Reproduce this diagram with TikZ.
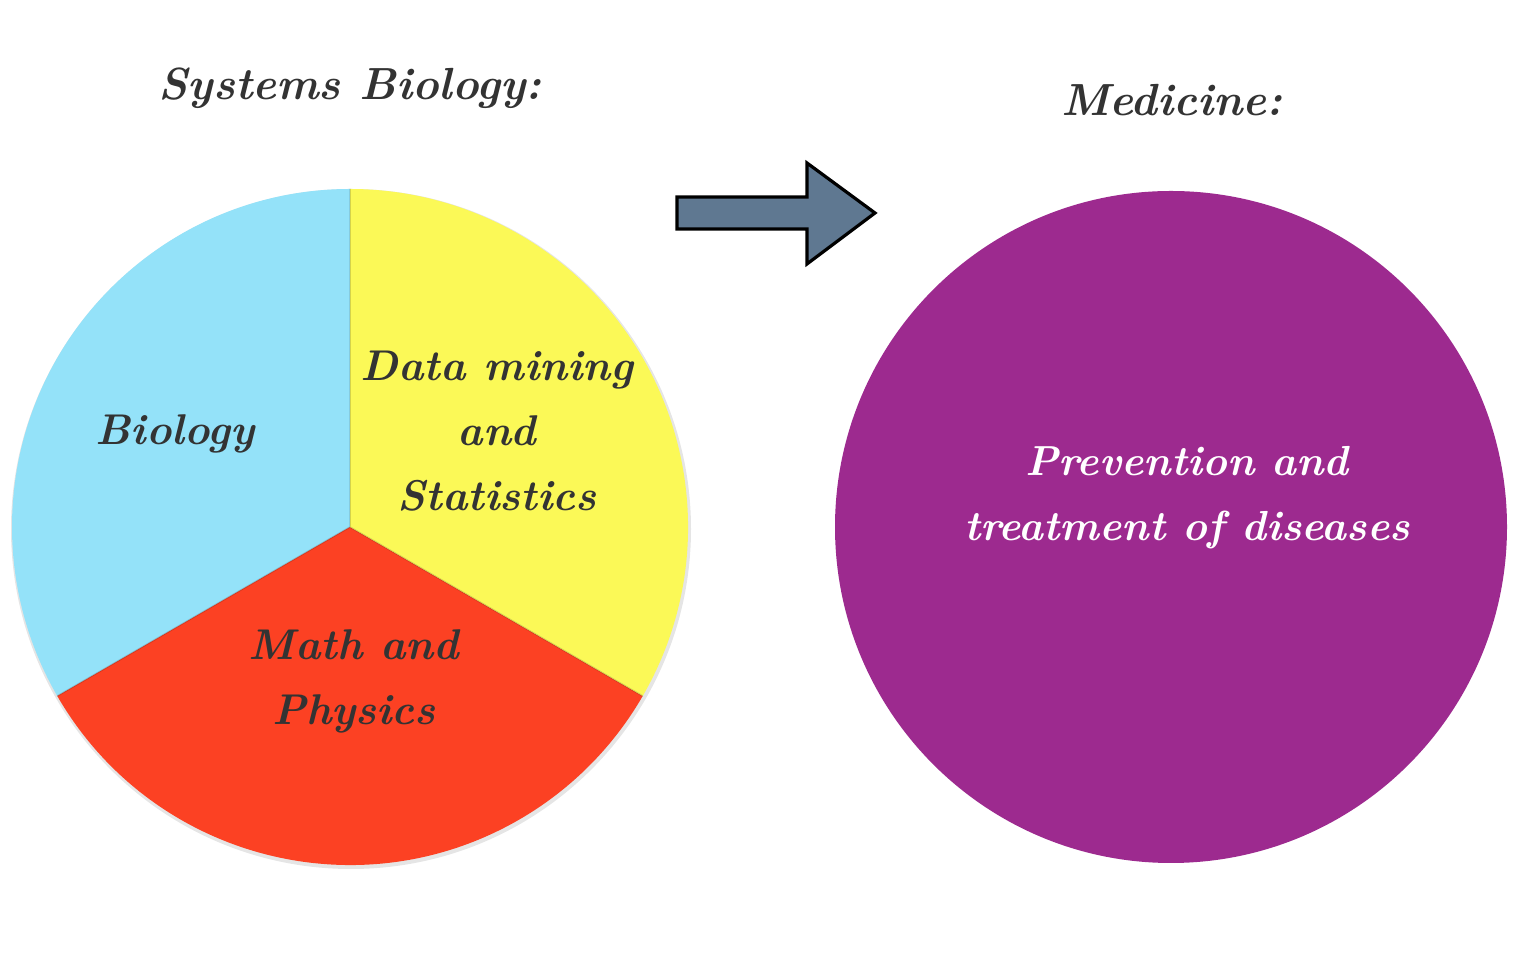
\documentclass[tikz,border=0pt]{standalone}
\usepackage{fontspec}
\definecolor{bioblue}{HTML}{94E2F9}
\definecolor{datayellow}{HTML}{FBF957}
\definecolor{mathred}{HTML}{FC4123}
\definecolor{medpurple}{HTML}{9D2A8F}
\definecolor{arrowslate}{HTML}{5F7891}
\definecolor{inkgray}{HTML}{333333}
\tikzset{
  x=1pt, y=1pt,
  lbl/.style={font=\fontsize{43}{65}\selectfont\bfseries\itshape, text=inkgray, align=center, inner sep=0pt},
  ttl/.style={lbl, font=\fontsize{45}{65}\selectfont\bfseries\itshape},
  wlbl/.style={lbl, text=white, font=\fontsize{42}{65}\selectfont\bfseries\itshape},
}
\begin{document}
\begin{tikzpicture}
\useasboundingbox (0,0) rectangle (1524,968);
\fill[white] (0,0) rectangle (1524,968);
% pie shadow
\fill[black, opacity=0.10] (351,439) circle[radius=340];
\coordinate (pc) at (350,441);
\fill[bioblue] (pc) -- ++(90:338) arc[start angle=90, end angle=210, radius=338] -- cycle;
\fill[mathred] (pc) -- ++(210:338) arc[start angle=210, end angle=330, radius=338] -- cycle;
\fill[datayellow] (pc) -- ++(-30:338) arc[start angle=-30, end angle=90, radius=338] -- cycle;
\draw[black, opacity=0.15, line width=1.5pt] (pc) -- ++(90:338) (pc) -- ++(210:338) (pc) -- ++(-30:338);
% right circle
\node[circle, fill=medpurple, minimum size=672pt, inner sep=0pt] (med) at (1171,441) {};
% arrow
\draw[fill=arrowslate, line width=3.2pt, line join=miter]
  (677,739) -- (677,771) -- (807,771) -- (807,805) -- (875,755) -- (807,704) -- (807,739) -- cycle;
% texts
\node[ttl] (t1) at (350,880) {Systems Biology:};
\node[ttl] (t2) at (1172,868) {Medicine:};
\node[lbl] (bio) at (175,534) {Biology};
\node[lbl] (dm) at (497,537) {Data mining\\and\\Statistics};
\node[lbl] (mp) at (354,287) {Math and\\Physics};
\node[wlbl] (pv) at (1187,470) {Prevention and\\treatment of diseases};
\end{tikzpicture}
\end{document}
